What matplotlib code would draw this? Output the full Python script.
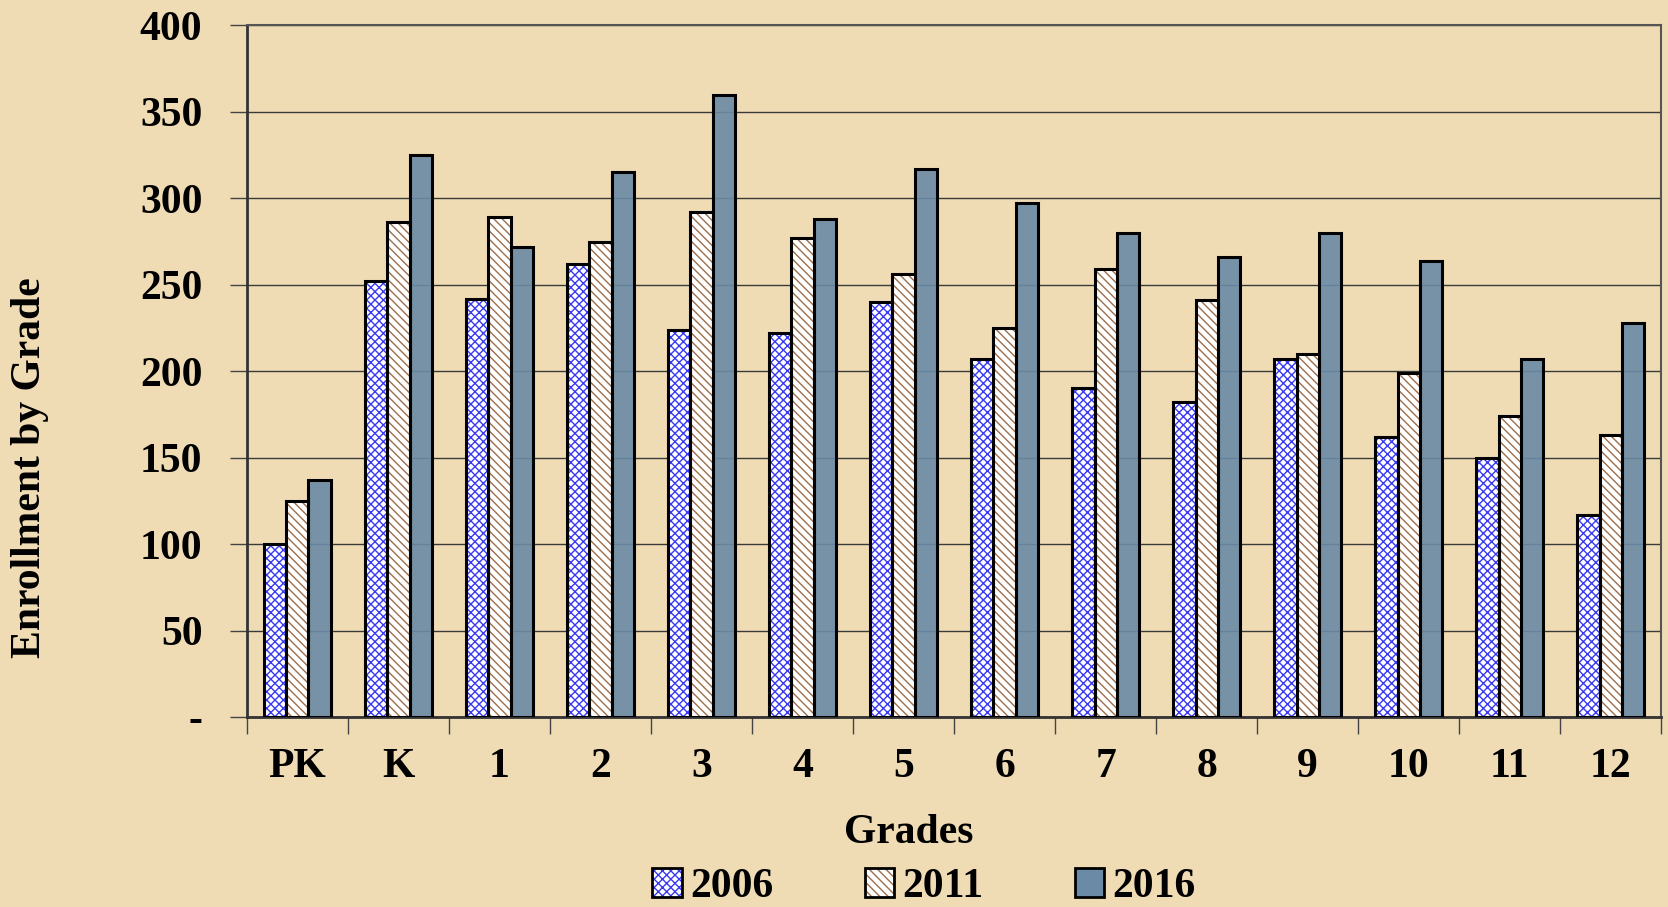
import numpy as np
import matplotlib.pyplot as plt
from matplotlib.patches import Patch

grades = ['PK', 'K', '1', '2', '3', '4', '5', '6', '7', '8', '9', '10', '11', '12']
enroll_2006 = [100, 252, 242, 262, 224, 222, 240, 207, 190, 182, 207, 162, 150, 117]
enroll_2011 = [125, 286, 289, 275, 292, 277, 256, 225, 259, 241, 210, 199, 174, 163]
enroll_2016 = [137, 325, 272, 315, 360, 288, 317, 297, 280, 266, 280, 264, 207, 228]
years = ['2006', '2011', '2016']

plt.rcParams['font.family'] = ['Liberation Serif', 'DejaVu Serif']
plt.rcParams['font.weight'] = 'bold'
plt.rcParams['hatch.linewidth'] = 1.0

bg = '#efdcb5'
c06 = '#3a3af0'
c11 = '#9c6e4c'
c16 = '#6a8aa6'

fig = plt.figure(figsize=(16.68, 9.07), dpi=100, facecolor=bg)
ax = fig.add_axes([0.148, 0.2095, 0.848, 0.7625])
ax.set_facecolor(bg)

x = np.arange(len(grades))
w = 0.22

# 2006: blue diamond hatch on white
ax.bar(x - w, enroll_2006, w, color='white', edgecolor=c06, hatch='xxxx', linewidth=0, zorder=2)
ax.bar(x - w, enroll_2006, w, fill=False, edgecolor='black', linewidth=2.2, zorder=4)
# 2011: brown zigzag hatch on white
ax.bar(x, enroll_2011, w, color='white', edgecolor=c11, hatch='\\\\\\\\', linewidth=0, zorder=2)
ax.bar(x, enroll_2011, w, fill=False, edgecolor='black', linewidth=2.2, zorder=4)
# 2016: slate blue, slightly see-through
ax.bar(x + w, enroll_2016, w, color=c16, alpha=0.9, linewidth=0, zorder=2)
ax.bar(x + w, enroll_2016, w, fill=False, edgecolor='black', linewidth=2.2, zorder=4)

ax.set_ylim(0, 400)
ax.set_xlim(-0.5, len(grades) - 0.5)
yt = np.arange(0, 401, 50)
ax.set_yticks(yt)
ax.set_yticklabels(['-'] + [str(v) for v in yt[1:]])
ax.yaxis.grid(True, color='#3a3a3a', linewidth=1.0)
for gl in ax.get_ygridlines():
    gl.set_zorder(3)

ax.set_xticks(x)
ax.set_xticklabels(grades)
ax.set_xticks(np.arange(-0.5, len(grades)), minor=True)
ax.tick_params(axis='x', which='major', length=0, pad=22, labelsize=30)
ax.tick_params(axis='x', which='minor', length=12, width=1, color='#444444', direction='out')
ax.tick_params(axis='y', length=12, width=1, color='#444444', pad=20, labelsize=30)

for side in ['top', 'right']:
    ax.spines[side].set_color('#555555')
    ax.spines[side].set_linewidth(1.5)
for side in ['left', 'bottom']:
    ax.spines[side].set_color('#333333')
    ax.spines[side].set_linewidth(2)

fig.text(0.545, 0.082, 'Grades', fontsize=30, fontweight='bold', ha='center', va='center')
fig.text(0.018, 0.484, 'Enrollment by Grade', rotation=90, fontsize=30,
         fontweight='bold', ha='center', va='center')

handles = [
    (Patch(facecolor='white', edgecolor=c06, hatch='xxxx', linewidth=0),
     Patch(fill=False, edgecolor='black', linewidth=2)),
    (Patch(facecolor='white', edgecolor=c11, hatch='\\\\\\\\', linewidth=0),
     Patch(fill=False, edgecolor='black', linewidth=2)),
    Patch(facecolor=c16, edgecolor='black', linewidth=2),
]
fig.legend(handles, years, loc='center', ncol=3, frameon=False,
           bbox_to_anchor=(0.554, 0.022), fontsize=30, columnspacing=2.2,
           handlelength=0.7, handleheight=0.7, handletextpad=0.2,
           borderpad=0, borderaxespad=0)

fig.savefig('out.png', dpi=100, facecolor=bg)
